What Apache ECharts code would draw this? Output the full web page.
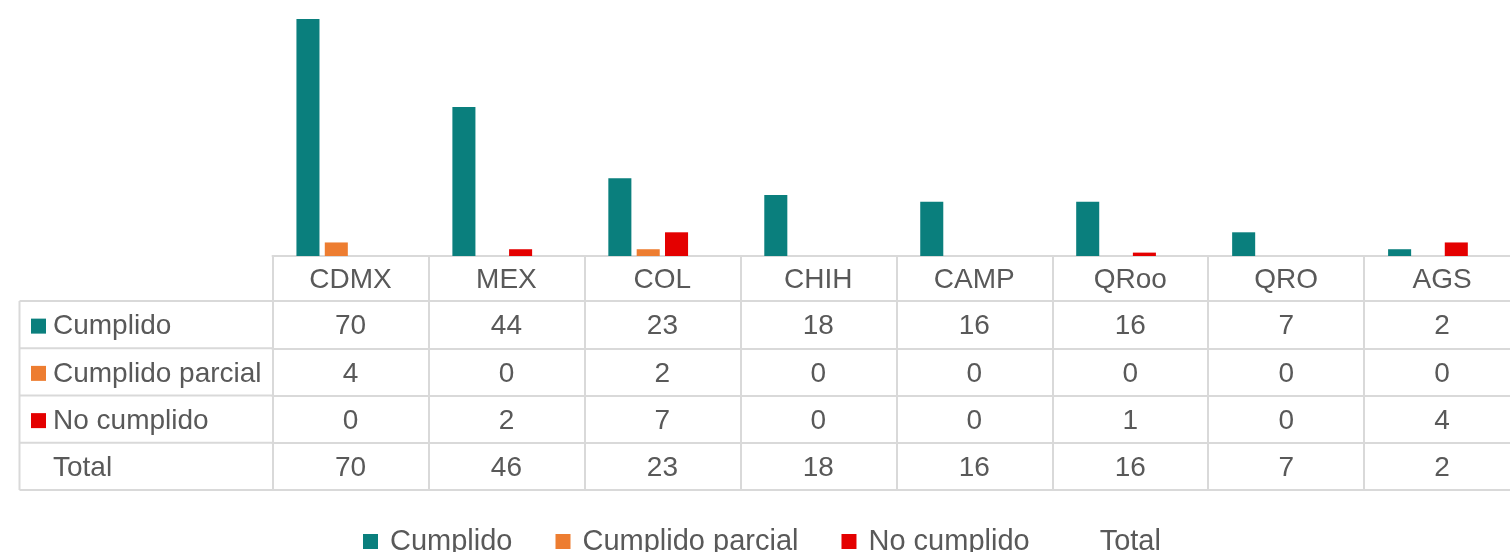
<!DOCTYPE html>
<html>
<head>
<meta charset="utf-8">
<style>
  html, body { margin: 0; padding: 0; background: #fff; }
  #chart { width: 1510px; height: 552px; }
</style>
<script src="https://cdn.jsdelivr.net/npm/echarts@6/dist/echarts.min.js"></script>
</head>
<body>
<div id="chart"></div>
<script>
// datos
const categories = ["CDMX", "MEX", "COL", "CHIH", "CAMP", "QRoo", "QRO", "AGS"];
const cumplido = [70, 44, 23, 18, 16, 16, 7, 2];
const cumplidoParcial = [4, 0, 2, 0, 0, 0, 0, 0];
const noCumplido = [0, 2, 7, 0, 0, 1, 0, 4];
const total = [70, 46, 23, 18, 16, 16, 7, 2];
const seriesNames = ["Cumplido", "Cumplido parcial", "No cumplido", "Total"];
const seriesData = [cumplido, cumplidoParcial, noCumplido, total];
const colors = ["#0a7f7d", "#ed7d31", "#e40000", "transparent"];

// layout of plot + data table
const gridLeft = 272.5;
const gridTop = 19;
const gridHeight = 237;
const colWidth = 155.95;
const headerH = 45;
const rowH = 47.25;
const tableLeft = 19.5;
const textColor = "#595959";
const borderColor = "#d9d9d9";
const fontFamily = "Liberation Sans, Arial, sans-serif";
const fontSize = 28;
const textNudge = 2; // glyphs sit a bit high when centred

const baseY = gridTop + gridHeight;
const tableBottomOffset = headerH + rowH * seriesNames.length;

const chart = echarts.init(document.getElementById("chart"));

// one extra x axis per table row; label text is the row's values
const xAxes = [
  {
    type: "category",
    gridIndex: 0,
    position: "bottom",
    data: categories,
    axisLine: { lineStyle: { color: borderColor, width: 2 } },
    axisTick: {
      show: true,
      interval: 0,
      length: tableBottomOffset,
      lineStyle: { color: borderColor, width: 2 }
    },
    axisLabel: {
      interval: 0,
      color: textColor,
      fontFamily: fontFamily,
      fontSize: fontSize,
      verticalAlign: "middle",
      margin: headerH / 2 + textNudge
    }
  }
];
seriesData.forEach(function (vals, k) {
  xAxes.push({
    type: "category",
    gridIndex: 0,
    position: "bottom",
    offset: headerH + rowH * k,
    data: categories,
    axisLine: { lineStyle: { color: borderColor, width: 2 } },
    axisTick: { show: false },
    axisLabel: {
      interval: 0,
      color: textColor,
      fontFamily: fontFamily,
      fontSize: fontSize,
      verticalAlign: "middle",
      margin: rowH / 2 + textNudge,
      formatter: function (v, i) { return String(vals[i]); }
    }
  });
});
// bottom border of the table
xAxes.push({
  type: "category",
  gridIndex: 0,
  position: "bottom",
  offset: tableBottomOffset,
  data: categories,
  axisLine: { lineStyle: { color: borderColor, width: 2 } },
  axisTick: { show: false },
  axisLabel: { show: false }
});

// left column of the table (row names with their keys)
const graphics = [];
for (let k = 0; k <= seriesNames.length; k++) {
  const y = baseY + headerH + rowH * k;
  graphics.push({
    type: "line",
    shape: { x1: tableLeft, y1: y, x2: gridLeft, y2: y },
    style: { stroke: borderColor, lineWidth: 2 }
  });
}
graphics.push({
  type: "line",
  shape: { x1: tableLeft, y1: baseY + headerH, x2: tableLeft, y2: baseY + tableBottomOffset },
  style: { stroke: borderColor, lineWidth: 2 }
});
seriesNames.forEach(function (name, k) {
  const cy = baseY + headerH + rowH * k + rowH / 2;
  if (colors[k] !== "transparent") {
    graphics.push({
      type: "rect",
      shape: { x: 31, y: cy - 6, width: 15, height: 15 },
      style: { fill: colors[k] }
    });
  }
  graphics.push({
    type: "text",
    x: 53,
    y: cy + textNudge,
    style: {
      text: name,
      fill: textColor,
      font: fontSize + "px " + fontFamily,
      verticalAlign: "middle",
      align: "left"
    }
  });
});

chart.setOption({
  animation: false,
  grid: {
    left: gridLeft,
    top: gridTop,
    width: colWidth * categories.length,
    height: gridHeight,
    outerBoundsMode: "none"
  },
  legend: {
    left: 363,
    top: 527,
    padding: 0,
    itemWidth: 15,
    itemHeight: 15,
    itemGap: 43,
    icon: "rect",
    textStyle: {
      color: textColor,
      fontFamily: fontFamily,
      fontSize: 29,
      padding: [0, 0, 0, 7]
    },
    data: seriesNames
  },
  xAxis: xAxes,
  yAxis: { type: "value", min: 0, max: 70, show: false, splitLine: { show: false } },
  graphic: graphics,
  series: seriesNames.map(function (name, k) {
    return {
      name: name,
      type: "bar",
      xAxisIndex: 0,
      data: seriesData[k],
      barGap: "23%",
      barCategoryGap: "30.7%",
      itemStyle: { color: colors[k] }
    };
  })
});
</script>
</body>
</html>
